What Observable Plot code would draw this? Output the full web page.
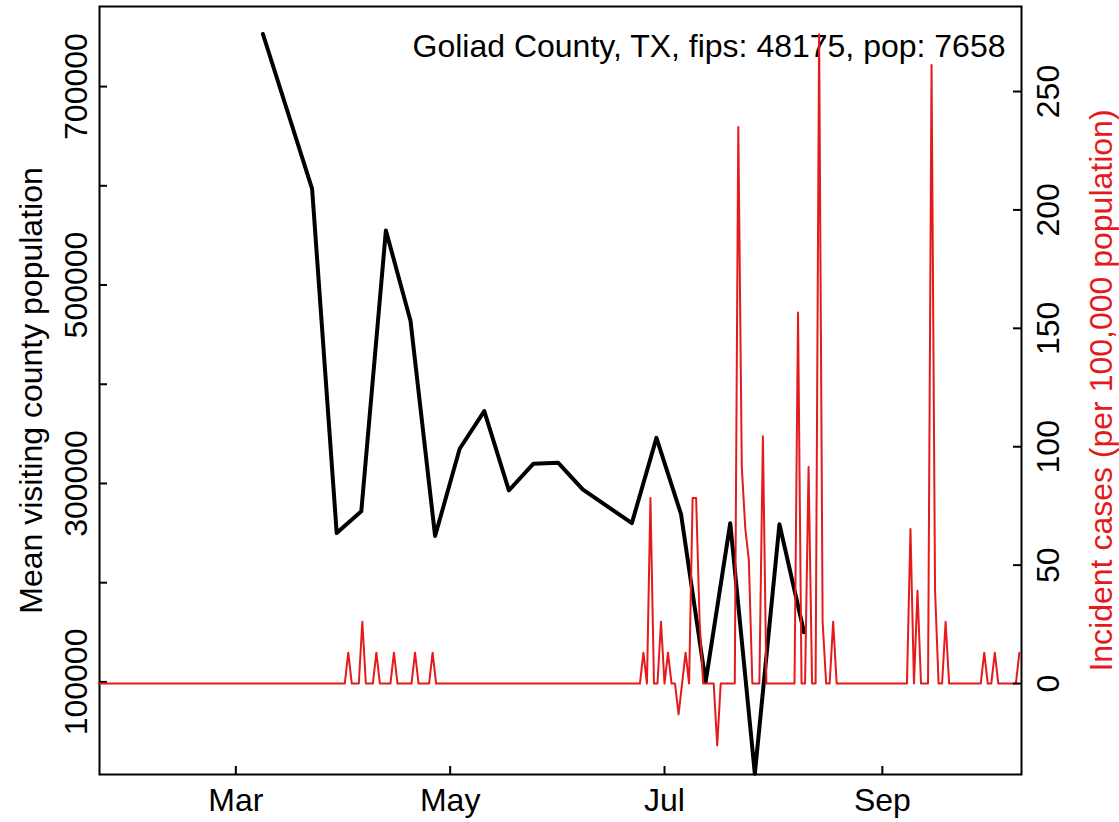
<!DOCTYPE html>
<html><head><meta charset="utf-8">
<script src="https://cdn.jsdelivr.net/npm/d3@7"></script>
<script src="https://cdn.jsdelivr.net/npm/@observablehq/plot@0.6"></script>
<style>
body{margin:0;background:#fff;}
#chart{position:relative;width:1119px;height:822px;background:#fff;}
#chart svg{position:absolute;left:0;top:0;}
</style></head><body><div id="chart"></div>
<script>
// ---- data ----
const countyTitle = "Goliad County, TX, fips: 48175, pop: 7658";
const leftLabel = "Mean visiting county population";
const rightLabel = "Incident cases (per 100,000 population)";

// weekly mean visiting county population (black line)
const mobilityDates = ["2020-03-08T17:00Z","2020-03-22T17:00Z","2020-03-29T17:00Z","2020-04-05T17:00Z",
  "2020-04-12T17:00Z","2020-04-19T17:00Z","2020-04-26T17:00Z","2020-05-03T17:00Z","2020-05-10T17:00Z",
  "2020-05-17T17:00Z","2020-05-24T17:00Z","2020-05-31T17:00Z","2020-06-07T17:00Z","2020-06-21T17:00Z",
  "2020-06-28T17:00Z","2020-07-05T17:00Z","2020-07-12T17:00Z","2020-07-19T17:00Z","2020-07-26T17:00Z",
  "2020-08-02T17:00Z","2020-08-09T17:00Z"];
const mobilityValues = [753000, 597000, 250000, 272000, 555000, 464000, 247000, 335000, 373000,
  293000, 320000, 321000, 294000, 260000, 346000, 269000, 100000, 260000, 7500, 259000, 150000];

// daily incident cases per 100,000 (red line); days not listed are 0
const caseStart = "2020-01-22";
const caseEnd = "2020-10-10";
const caseDates = ["2020-04-02","2020-04-06","2020-04-10","2020-04-15","2020-04-21","2020-04-26",
  "2020-06-25","2020-06-27","2020-06-30","2020-07-02","2020-07-05","2020-07-07","2020-07-09","2020-07-10",
  "2020-07-11","2020-07-16","2020-07-22","2020-07-23","2020-07-24","2020-07-25","2020-07-29",
  "2020-08-08","2020-08-11","2020-08-14","2020-08-15","2020-08-18",
  "2020-09-09","2020-09-11","2020-09-15","2020-09-16","2020-09-19","2020-09-30","2020-10-03","2020-10-10"];
const caseRates = [13.06, 26.12, 13.06, 13.06, 13.06, 13.06,
  13.06, 78.35, 26.12, 13.06, -13.06, 13.06, 78.35, 78.35,
  26.12, -26.12, 235.05, 91.41, 65.29, 52.23, 104.47,
  156.70, 91.41, 274.22, 26.12, 26.12,
  65.29, 39.17, 261.16, 39.17, 26.12, 13.06, 13.06, 13.06];

const monthTicks = ["2020-03-01","2020-05-01","2020-07-01","2020-09-01"];
const monthLabels = ["Mar","May","Jul","Sep"];
const leftTickMarks = [100000,200000,300000,400000,500000,600000,700000];
const leftTickLabels = [100000,300000,500000,700000];
const rightTicks = [0,50,100,150,200,250];

// ---- build tables ----
const mobility = mobilityDates.map((d,i)=>({date:new Date(d), value:mobilityValues[i]}));
const rateByDay = new Map(caseDates.map((d,i)=>[d, caseRates[i]]));
const fmt = d3.utcFormat("%Y-%m-%d");
const cases = d3.utcDays(new Date(caseStart), d3.utcDay.offset(new Date(caseEnd),1))
  .map(d=>({date:d, rate: rateByDay.has(fmt(d)) ? rateByDay.get(fmt(d)) : 0}));
const months = monthTicks.map((d,i)=>({date:new Date(d), label:monthLabels[i]}));

const FONT = "'Liberation Sans', Arial, Helvetica, sans-serif";
const FS = 32;
const W = 1119, H = 822, ML = 99, MR = 98, MT = 6, MB = 48;
const innerW = W-ML-MR, innerH = H-MT-MB;
const TICK = 8;
const common = {
  width:W, height:H, marginTop:MT, marginRight:MR, marginBottom:MB, marginLeft:ML,
  x:{type:"utc", domain:[new Date("2020-01-22T04:48Z"), new Date("2020-10-10T14:24Z")], axis:null},
  style:{fontFamily:FONT, fontSize:FS+"px", background:"transparent", overflow:"visible", color:"black"}
};
const rot = {rotate:-90, textAnchor:"middle", lineAnchor:"middle", fontSize:FS};

const p1 = Plot.plot({
  ...common,
  y:{domain:[6700,780700], axis:null},
  marks:[
    Plot.line(mobility,{x:"date", y:"value", stroke:"black", strokeWidth:4, strokeLinejoin:"round", strokeLinecap:"round"}),
    Plot.tickY(leftTickMarks,{y:d=>d, stroke:"black", strokeWidth:2, insetRight:innerW-TICK}),
    Plot.tickX(months,{x:"date", stroke:"black", strokeWidth:2, insetTop:innerH-TICK}),
    Plot.text(leftTickLabels,{y:d=>d, text:d=>String(d), frameAnchor:"left", dx:-23, fill:"black", ...rot}),
    Plot.text(months,{x:"date", text:"label", frameAnchor:"bottom", dy:26, textAnchor:"middle", lineAnchor:"middle", fontSize:FS, fill:"black"}),
    Plot.text([leftLabel],{frameAnchor:"left", dx:-68, fill:"black", ...rot}),
    Plot.text([countyTitle],{frameAnchor:"top-right", dx:-16, dy:40, textAnchor:"end", lineAnchor:"middle", fontSize:FS, fill:"black"}),
    Plot.frame({stroke:"black", strokeWidth:2})
  ]
});

const p2 = Plot.plot({
  ...common,
  y:{domain:[-38.4,285.9], axis:null},
  marks:[
    Plot.line(cases,{x:"date", y:"rate", stroke:"#E41A1C", strokeWidth:2, strokeLinejoin:"round"}),
    Plot.tickY(rightTicks,{y:d=>d, stroke:"black", strokeWidth:2, insetLeft:innerW-TICK}),
    Plot.text(rightTicks,{y:d=>d, text:d=>String(d), frameAnchor:"right", dx:27, fill:"black", ...rot}),
    Plot.text([rightLabel],{frameAnchor:"right", dx:80, fill:"#E41A1C", ...rot})
  ]
});

const c = document.getElementById("chart");
c.appendChild(p1);
c.appendChild(p2);
</script></body></html>
